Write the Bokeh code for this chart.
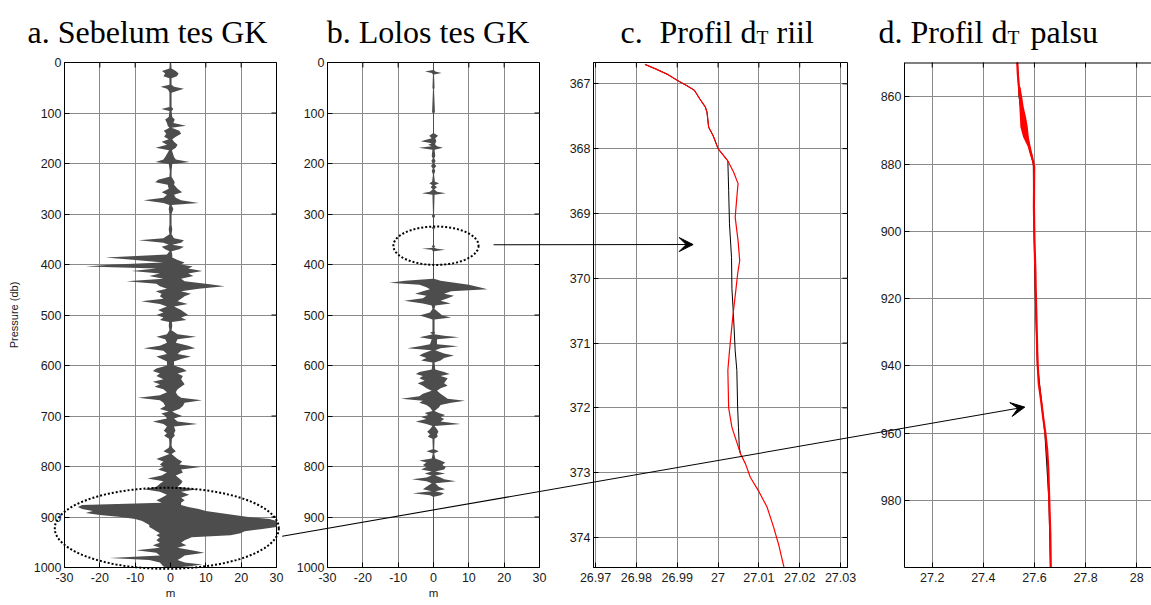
import math
from bokeh.plotting import figure
from bokeh.models import (Range1d, LinearAxis, FixedTicker, Grid, Label, Arrow, VeeHead,
                          GridBox, Row, PolyAnnotation, Span)
from bokeh.embed import file_html
from bokeh.resources import INLINE

# ---------------- data ----------------
# panel a: displacement envelope (m) vs pressure (db), before GK test
a_p = [0, 12, 17, 22, 27, 31, 44, 48, 52, 56,
       60, 88, 92, 96, 108, 113, 120, 125, 129, 135,
       141, 147, 152, 157, 163, 169, 174, 187, 192, 197,
       201, 215, 226, 232, 237, 242, 250, 257, 262, 268,
       273, 278, 282, 290, 300, 322, 330, 340, 348, 352,
       357, 361, 365, 370, 374, 380, 386, 391, 396, 400,
       404, 408, 413, 418, 423, 428, 433, 438, 443, 448,
       453, 458, 463, 468, 473, 478, 483, 490, 495, 500,
       505, 510, 514, 522, 530, 538, 543, 548, 555, 561,
       566, 571, 577, 582, 587, 592, 600, 606, 611, 616,
       621, 627, 632, 637, 642, 647, 653, 659, 664, 669,
       674, 680, 686, 691, 695, 700, 705, 711, 716, 721,
       729, 734, 739, 745, 758, 763, 770, 775, 785, 790,
       796, 801, 806, 812, 818, 824, 829, 834, 840, 845,
       850, 856, 862, 867, 872, 876, 880, 884, 888, 892,
       896, 900, 904, 908, 912, 916, 920, 924, 928, 932,
       936, 940, 946, 951, 956, 961, 966, 971, 976, 981,
       985, 990, 994, 998, 1000]
a_left = [-0.2, -0.3, -2.4, -1.5, -2.0, -0.3, -0.3, -2.8, -1.0, -0.5,
          -0.3, -0.3, -2.6, -0.3, -0.5, -1.5, -1.0, -0.8, -0.3, -1.9,
          -1.2, -1.8, -0.5, -2.5, -1.0, -4.2, -0.4, -1.5, -2.0, -4.2,
          -0.5, -0.2, -0.3, -3.5, -4.3, -0.8, -0.5, -2.5, -1.0, -2.0,
          -7.6, -2.0, -0.3, -0.5, -0.3, -0.3, -0.5, -0.3, -2.0, -9.0,
          -2.0, -0.5, -2.5, -1.5, -0.3, -1.0, -18.4, -10.0, -2.0, -16.0,
          -24.0, -4.0, -11.0, -3.0, -6.0, -2.0, -12.5, -4.0, -3.0, -1.0,
          -4.2, -2.5, -3.0, -2.0, -8.3, -3.0, -1.0, -3.5, -2.0, -4.0,
          -2.0, -3.0, -0.4, -0.5, -0.3, -1.0, -4.0, -1.5, -1.0, -3.0,
          -7.6, -2.0, -1.0, -4.0, -2.5, -1.0, -1.0, -4.0, -5.0, -3.0,
          -4.0, -2.0, -5.0, -3.0, -4.5, -2.0, -1.0, -3.0, -9.2, -3.0,
          -2.0, -1.5, -3.0, -0.5, -2.6, -1.5, -1.0, -5.0, -2.0, -1.0,
          -1.9, -1.0, -1.8, -0.4, -0.3, -0.5, -2.0, -0.3, -4.0, -2.0,
          -3.0, -2.0, -3.5, -1.0, -2.5, -6.5, -2.0, -3.0, -4.0, -7.5,
          -3.0, -1.0, -2.5, -4.0, -2.5, -25.0, -26.2, -25.0, -22.0, -24.0,
          -20.0, -14.0, -10.0, -8.0, -7.0, -6.0, -6.0, -5.0, -4.0, -3.0,
          -4.0, -3.0, -4.0, -3.0, -5.0, -3.0, -9.7, -4.0, -3.0, -17.3,
          -6.0, -3.0, -2.5, -2.0, -1.0]
a_right = [0.2, 0.3, 1.5, 2.3, 1.8, 0.3, 0.3, 1.0, 3.8, 2.0,
           0.3, 0.3, 0.8, 0.3, 0.5, 1.2, 0.8, 4.4, 0.3, 2.5,
           3.0, 1.5, 0.5, 1.0, 2.0, 1.5, 0.4, 1.0, 1.5, 5.4,
           0.5, 0.3, 0.3, 0.8, 1.2, 1.0, 2.0, 3.3, 1.0, 1.5,
           3.0, 8.0, 0.3, 0.8, 0.3, 0.3, 0.5, 0.3, 1.0, 3.8,
           3.0, 0.5, 3.8, 2.5, 0.3, 0.5, 0.5, 2.0, 4.0, 3.0,
           6.3, 5.0, 9.0, 5.0, 6.5, 3.0, 4.0, 10.0, 15.3, 8.0,
           3.0, 5.8, 4.0, 3.0, 2.0, 4.9, 1.0, 3.0, 4.0, 5.0,
           3.0, 4.5, 0.4, 0.5, 0.3, 2.0, 7.3, 2.0, 1.5, 5.0,
           7.0, 3.0, 2.0, 5.8, 3.0, 1.0, 1.0, 3.5, 4.6, 2.0,
           3.5, 3.0, 3.5, 4.0, 3.0, 2.0, 1.5, 2.0, 3.0, 8.9,
           4.0, 3.5, 2.5, 0.5, 1.5, 3.3, 1.0, 2.0, 7.7, 1.0,
           1.4, 1.0, 1.2, 0.4, 0.3, 0.5, 1.5, 0.3, 2.0, 3.3,
           2.5, 8.5, 3.0, 3.5, 1.5, 2.5, 3.4, 3.0, 2.0, 7.6,
           3.0, 5.3, 3.0, 4.0, 3.0, 3.0, 5.0, 8.0, 10.0, 14.0,
           18.0, 22.0, 28.0, 30.0, 30.4, 30.4, 30.0, 26.0, 21.0, 19.8,
           17.0, 6.0, 4.0, 3.0, 4.5, 2.0, 6.0, 9.6, 4.0, 3.0,
           2.0, 4.0, 9.0, 5.0, 1.0]

# panel b: after GK test
b_p = [0, 15, 18, 21, 24, 50, 53, 98, 101, 140,
       145, 150, 156, 160, 163, 166, 169, 173, 185, 190,
       195, 200, 205, 210, 215, 222, 236, 239, 243, 247,
       251, 256, 259, 262, 300, 304, 308, 325, 327, 330,
       362, 364, 367, 369, 371, 374, 428, 432, 436, 440,
       445, 449, 453, 458, 462, 467, 472, 477, 481, 488,
       495, 501, 505, 509, 533, 535, 538, 541, 544, 548,
       558, 562, 566, 570, 576, 580, 585, 590, 594, 608,
       613, 617, 621, 625, 630, 635, 640, 645, 650, 656,
       661, 666, 670, 674, 678, 683, 690, 694, 698, 702,
       706, 711, 716, 720, 726, 731, 736, 741, 745, 766,
       770, 774, 784, 788, 792, 797, 801, 806, 810, 814,
       818, 822, 825, 829, 833, 840, 845, 849, 853, 857,
       860, 1000]
b_left = [-0.15, -0.15, -2.4, -0.5, -0.15, -0.3, -0.15, -0.4, -0.15, -0.15,
          -1.2, -0.5, -3.6, -0.5, -1.5, -0.5, -4.2, -0.3, -0.5, -0.2,
          -0.6, -0.2, -0.7, -0.2, -0.5, -0.15, -0.4, -1.2, -0.3, -0.8,
          -0.2, -1.0, -3.3, -0.3, -0.15, -0.5, -0.15, -0.15, -0.5, -0.15,
          -0.15, -0.5, -0.15, -3.3, -0.5, -0.15, -0.15, -8.0, -12.5, -4.0,
          -2.0, -1.0, -3.0, -5.2, -2.0, -3.0, -8.3, -3.0, -0.5, -0.3,
          -1.0, -4.0, -2.0, -0.3, -0.3, -1.0, -0.2, -2.0, -4.0, -0.5,
          -1.0, -4.0, -7.4, -0.5, -3.0, -4.0, -2.0, -3.5, -0.3, -0.5,
          -4.0, -5.0, -3.0, -4.0, -2.5, -4.5, -3.0, -2.0, -0.5, -3.0,
          -4.0, -9.2, -3.0, -4.0, -2.0, -1.0, -0.3, -2.5, -1.5, -3.5,
          -2.0, -5.0, -2.0, -0.3, -1.0, -1.8, -1.0, -1.6, -0.3, -0.2,
          -2.0, -0.2, -0.5, -4.0, -2.0, -3.0, -2.0, -3.5, -0.5, -2.5,
          -0.5, -2.0, -6.1, -2.0, -0.5, -2.0, -3.0, -0.5, -5.9, -1.0,
          -0.15, -0.15]
b_right = [0.15, 0.15, 0.5, 2.3, 0.15, 0.3, 0.15, 0.4, 0.15, 0.15,
           1.3, 0.5, 0.8, 0.5, 0.5, 1.0, 2.7, 0.3, 0.5, 0.2,
           0.6, 0.2, 0.8, 0.2, 0.5, 0.15, 0.4, 1.6, 0.3, 1.0,
           0.2, 1.0, 3.5, 0.3, 0.15, 0.5, 0.15, 0.15, 0.5, 0.15,
           0.15, 0.5, 0.15, 1.0, 3.3, 0.15, 0.15, 2.0, 6.0, 10.0,
           13.0, 15.3, 5.0, 3.0, 5.8, 4.0, 2.0, 4.9, 0.5, 0.3,
           1.5, 2.5, 5.0, 0.3, 0.3, 0.5, 0.2, 3.0, 7.3, 1.0,
           1.0, 7.0, 2.0, 0.5, 3.0, 5.8, 3.0, 2.0, 0.3, 0.5,
           3.0, 4.6, 2.0, 4.0, 3.5, 3.0, 4.0, 2.0, 1.0, 2.0,
           3.0, 4.0, 8.9, 5.0, 2.0, 1.5, 0.3, 1.5, 3.3, 2.0,
           3.0, 2.0, 7.7, 0.3, 1.0, 1.4, 1.0, 1.2, 0.3, 0.2,
           1.5, 0.2, 0.5, 2.0, 3.3, 2.5, 3.5, 3.0, 0.5, 3.3,
           0.5, 2.0, 3.0, 6.3, 0.5, 1.5, 3.3, 0.5, 3.0, 2.0,
           0.15, 0.15]

# panel c: real dT profile (red) and reference (black)
c_red_p = [366.70, 366.77, 366.85, 366.95, 367.03, 367.10, 367.23, 367.36, 367.44, 367.67,
           367.80, 368.00, 368.11, 368.19, 368.36, 368.54, 368.75, 369.06, 369.42, 369.73,
           369.93, 370.16, 370.60, 371.12, 371.42, 372.00, 372.30, 372.61, 372.71, 372.86,
           373.07, 373.28, 373.53, 373.84, 374.10, 374.50]
c_red_t = [26.9821, 26.9847, 26.9875, 26.9901, 26.9924, 26.9942, 26.9955, 26.9969, 26.9973, 26.9977,
           26.9988, 27.0000, 27.0014, 27.0024, 27.0038, 27.0049, 27.0046, 27.0042, 27.0049, 27.0053,
           27.0048, 27.0044, 27.0036, 27.0028, 27.0024, 27.0026, 27.0034, 27.0050, 27.0055, 27.0067,
           27.0079, 27.0099, 27.0120, 27.0136, 27.0148, 27.0163]
c_blk_p = [366.70, 366.77, 366.85, 366.95, 367.03, 367.10, 367.23, 367.36, 367.44, 367.67,
           367.80, 368.00, 368.11, 368.19, 368.65, 369.16, 369.68, 370.16, 370.60, 371.12,
           371.42, 372.00, 372.30, 372.61, 372.71]
c_blk_t = [26.9821, 26.9847, 26.9875, 26.9901, 26.9924, 26.9942, 26.9955, 26.9969, 26.9973, 26.9977,
           26.9988, 27.0000, 27.0014, 27.0024, 27.0026, 27.0028, 27.0033, 27.0034, 27.0038, 27.0042,
           27.0046, 27.0048, 27.0050, 27.0052, 27.0055]

# panel d: false dT profile
d_red_p = [849.3, 853.2, 859.1, 865.1, 869.0, 872.0, 876.0, 878.9, 880.9, 892.8,
           902.7, 912.6, 917.1, 935.5, 940.1, 945.4, 950.3, 955.3, 960.2, 965.2,
           970.2, 980.1, 990.0, 1000.0]
d_red_t = [27.5325, 27.535, 27.5416, 27.552, 27.561, 27.572, 27.582, 27.594, 27.599, 27.598,
           27.600, 27.604, 27.605, 27.6108, 27.613, 27.617, 27.626, 27.634, 27.643, 27.650,
           27.654, 27.658, 27.662, 27.664]
d_noise_p = [857, 860, 863, 866, 869, 872, 875, 878]
d_noise_lo = [27.538, 27.539, 27.541, 27.543, 27.545, 27.556, 27.575, 27.590]
d_noise_hi = [27.545, 27.552, 27.558, 27.567, 27.574, 27.578, 27.586, 27.595]
d_blk_p = [849.3, 860, 870, 876, 880, 892, 920, 940, 960, 980, 1000]
d_blk_t = [27.533, 27.540, 27.560, 27.583, 27.596, 27.597, 27.604, 27.612, 27.641, 27.657, 27.663]

# ticks
ab_xticks = [-30, -20, -10, 0, 10, 20, 30]
ab_xlabels = ["-30", "-20", "-10", "0", "10", "20", "30"]
ab_yticks = [0, 100, 200, 300, 400, 500, 600, 700, 800, 900, 1000]
ab_ylabels = ["0", "100", "200", "300", "400", "500", "600", "700", "800", "900", "1000"]
c_xticks = [26.97, 26.98, 26.99, 27.0, 27.01, 27.02, 27.03]
c_xlabels = ["26.97", "26.98", "26.99", "27", "27.01", "27.02", "27.03"]
c_yticks = [367, 368, 369, 370, 371, 372, 373, 374]
c_ylabels = ["367", "368", "369", "370", "371", "372", "373", "374"]
d_xticks = [27.2, 27.4, 27.6, 27.8, 28.0]
d_xlabels = ["27.2", "27.4", "27.6", "27.8", "28"]
d_yticks = [860, 880, 900, 920, 940, 960, 980]
d_ylabels = ["860", "880", "900", "920", "940", "960", "980"]

# ---------------- layout (page pixels, page origin at 0,0) ----------------
FIG_H = 603
PAGE_W = 1151
FRAME_TOP, FRAME_BOTTOM = 62, 567
FIG_X = {"a": (0, 284), "b": (284, 552), "c": (552, 862), "d": (862, 1151)}
FRAME_X = {"a": (64, 276), "b": (327, 539), "c": (593, 847), "d": (904, 1151)}
XR = {"a": (-30, 30), "b": (-30, 30), "c": (26.9695, 27.0317), "d": (27.0916, 28.058)}
YR = {"a": (0, 1000), "b": (0, 1000), "c": (366.671, 374.463), "d": (849.8, 1000)}

GRID_COLOR = "#8a8a8a"
TICK_FONT = "Liberation Sans"
TITLE_FONT = "Liberation Serif"


def style_axis(ax):
    ax.axis_line_color = "black"
    ax.axis_line_width = 1
    ax.major_tick_line_color = "black"
    ax.major_tick_in = 5
    ax.major_tick_out = 0
    ax.minor_tick_line_color = None
    ax.minor_tick_in = 0
    ax.minor_tick_out = 0
    ax.major_label_text_font = TICK_FONT
    ax.major_label_text_font_size = "12.5px"
    ax.major_label_text_color = "#1a1a1a"


def make_panel(key, xticks, xlabels, yticks, ylabels, xlab=None, ylab=None,
               right_ticks=True, outline=True):
    fx0, fx1 = FIG_X[key]
    l, r = FRAME_X[key]
    p = figure(width=fx1 - fx0, height=FIG_H,
               x_range=Range1d(*XR[key]), y_range=Range1d(YR[key][1], YR[key][0]),
               x_axis_type=None, y_axis_type=None,
               output_backend="svg", toolbar_location=None,
               min_border_left=l - fx0, min_border_right=fx1 - r,
               min_border_top=FRAME_TOP, min_border_bottom=FIG_H - FRAME_BOTTOM)
    p.background_fill_color = "white"
    p.border_fill_color = "white"
    p.outline_line_color = "black" if outline else None
    p.outline_line_width = 1
    xt = FixedTicker(ticks=xticks)
    yt = FixedTicker(ticks=yticks)
    p.add_layout(Grid(dimension=0, ticker=xt, grid_line_color=GRID_COLOR, grid_line_width=1))
    p.add_layout(Grid(dimension=1, ticker=yt, grid_line_color=GRID_COLOR, grid_line_width=1))

    xb = LinearAxis(ticker=xt, major_label_overrides=dict(zip(xticks, xlabels)))
    style_axis(xb)
    xb.major_label_standoff = 5
    if xlab:
        xb.axis_label = xlab
        xb.axis_label_text_font = TICK_FONT
        xb.axis_label_text_font_size = "11.5px"
        xb.axis_label_text_font_style = "normal"
        xb.axis_label_text_color = "#1a1a1a"
        xb.axis_label_standoff = 2
    p.add_layout(xb, "below")

    yl = LinearAxis(ticker=yt, major_label_overrides=dict(zip(yticks, ylabels)))
    style_axis(yl)
    yl.major_label_standoff = 3
    if ylab:
        yl.axis_label = ylab
        yl.axis_label_text_font = TICK_FONT
        yl.axis_label_text_font_size = "11px"
        yl.axis_label_text_font_style = "normal"
        yl.axis_label_text_color = "#1a1a1a"
        yl.axis_label_standoff = 11
    p.add_layout(yl, "left")

    if not outline:
        # top edge of the frame (the frame runs on past the right edge of the page)
        p.add_layout(Span(location=YR[key][0], dimension="width", line_color="black", line_width=2))

    # inward tick marks on the top (and right) frame edges
    p.scatter(x=xticks, y=[YR[key][0]] * len(xticks), marker="dash", angle=math.pi / 2,
              size=10, line_color="black", line_width=1)
    if right_ticks:
        p.scatter(x=[XR[key][1]] * len(yticks), y=yticks, marker="dash",
                  size=10, line_color="black", line_width=1)
    return p


DARK = "#4d4d4d"

pa = make_panel("a", ab_xticks, ab_xlabels, ab_yticks, ab_ylabels, xlab="m", ylab="Pressure (db)")
pa.harea(x1=a_left, x2=a_right, y=a_p, fill_color=DARK, fill_alpha=1)

pb = make_panel("b", ab_xticks, ab_xlabels, ab_yticks, ab_ylabels, xlab="m")
pb.harea(x1=b_left, x2=b_right, y=b_p, fill_color=DARK, fill_alpha=1)

pc = make_panel("c", c_xticks, c_xlabels, c_yticks, c_ylabels)
pc.line(x=c_blk_t, y=c_blk_p, line_color="black", line_width=1)
pc.line(x=c_red_t, y=c_red_p, line_color="#ff0000", line_width=1.2)

pd = make_panel("d", d_xticks, d_xlabels, d_yticks, d_ylabels, right_ticks=False, outline=False)
pd.line(x=d_blk_t, y=d_blk_p, line_color="black", line_width=1.2)
pd.harea(x1=d_noise_lo, x2=d_noise_hi, y=d_noise_p, fill_color="#ff0000", fill_alpha=1)
pd.line(x=d_red_t, y=d_red_p, line_color="#ff0000", line_width=2.2)

# ---------------- overlay: titles, ellipses and arrows across panels ----------------
# a transparent plot laid over the whole row; its data units are page pixels
ov = figure(width=PAGE_W, height=FIG_H,
            x_range=Range1d(0, PAGE_W), y_range=Range1d(FIG_H, 0),
            x_axis_type=None, y_axis_type=None, output_backend="svg", toolbar_location=None,
            min_border=0, min_border_left=0, min_border_right=0,
            min_border_top=0, min_border_bottom=0,
            background_fill_color=None, border_fill_color=None, outline_line_color=None)


def to_page(key, x, y):
    l, r = FRAME_X[key]
    x0, x1 = XR[key]
    y0, y1 = YR[key]
    return (l + (x - x0) / (x1 - x0) * (r - l),
            FRAME_TOP + (y - y0) / (y1 - y0) * (FRAME_BOTTOM - FRAME_TOP))


def len_page(key, dx, dy):
    l, r = FRAME_X[key]
    x0, x1 = XR[key]
    y0, y1 = YR[key]
    return dx / (x1 - x0) * (r - l), dy / (y1 - y0) * (FRAME_BOTTOM - FRAME_TOP)


# dotted ellipses (centre and size in the panel's own units)
for key, cx, cy, w, h in [("a", -1.05, 922.4, 63.4, 160.4), ("b", 0.7, 362.8, 24.1, 76.0)]:
    px, py = to_page(key, cx, cy)
    pw, ph = len_page(key, w, h)
    n = 160
    xs = [px + pw / 2 * math.cos(2 * math.pi * i / n) for i in range(n)]
    ys = [py + ph / 2 * math.sin(2 * math.pi * i / n) for i in range(n)]
    ov.add_layout(PolyAnnotation(xs=xs, ys=ys, fill_color=None, fill_alpha=0,
                                 line_color="black", line_alpha=1, line_width=2, line_dash="2 2"))

# arrows
for (k0, x0, y0), (k1, x1, y1) in [(("b", 17.0, 361.0), ("c", 26.9939, 369.48)),
                                   (("a", 31.6, 938.0), ("d", 27.5623, 952.3))]:
    sx, sy = to_page(k0, x0, y0)
    ex, ey = to_page(k1, x1, y1)
    ov.add_layout(Arrow(x_start=sx, y_start=sy, x_end=ex, y_end=ey,
                        line_color="black", line_width=1.1,
                        end=VeeHead(size=14, fill_color="black", line_color="black", line_width=1)))


def title(text, x, y, size="32px", align="left"):
    ov.add_layout(Label(x=x, y=y, text=text, text_font=TITLE_FONT, text_font_size=size,
                        text_color="black", text_align=align, text_baseline="alphabetic"))


title("a. Sebelum tes GK", 147, 31, align="center")
title("b. Lolos tes GK", 427.5, 31, align="center")
title("c.", 620, 31)
title("Profil d", 659, 31)
title("T", 756, 37, size="19.5px")
title("riil", 776, 31)
title("d. Profil d", 878, 31)
title("T", 1007, 37, size="19.5px")
title("palsu", 1030, 31)

panels = Row(children=[pa, pb, pc, pd], spacing=0)
layout = GridBox(children=[(panels, 0, 0), (ov, 0, 0)], spacing=0)

open("out.html", "w").write(file_html(layout, INLINE, title="Profil"))
